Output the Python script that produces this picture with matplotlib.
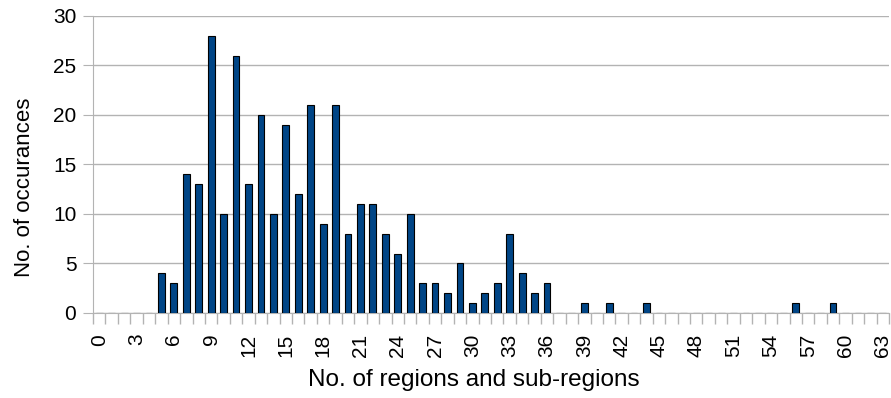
import numpy as np
import matplotlib
matplotlib.use('Agg')
from matplotlib import pyplot as plt

plt.rcParams['font.family'] = ['Liberation Sans', 'DejaVu Sans']

# category -> no. of occurances (categories 0..63)
regions = list(range(64))
counts_known = {5: 4, 6: 3, 7: 14, 8: 13, 9: 28, 10: 10, 11: 26, 12: 13, 13: 20,
                14: 10, 15: 19, 16: 12, 17: 21, 18: 9, 19: 21, 20: 8, 21: 11,
                22: 11, 23: 8, 24: 6, 25: 10, 26: 3, 27: 3, 28: 2, 29: 5, 30: 1,
                31: 2, 32: 3, 33: 8, 34: 4, 35: 2, 36: 3, 39: 1, 41: 1, 44: 1,
                56: 1, 59: 1}
counts = [counts_known.get(r, 0) for r in regions]
tick_labels = [str(r) for r in range(0, 64, 3)]

fig = plt.figure(figsize=(8.91, 3.98), dpi=100)
ax = fig.add_axes([0.1044, 0.2136, 0.8934, 0.7462])

ax.bar(regions, counts, width=0.55, color='#004586', edgecolor='black', linewidth=0.8, zorder=3)

ax.set_xlim(-0.5, 63.5)
ax.set_ylim(0, 30)
ax.set_yticks(range(0, 31, 5))
ax.yaxis.grid(True, color='#b3b3b3', linewidth=1, zorder=0)

ax.set_xticks(range(0, 64, 3))
ax.set_xticklabels(tick_labels, rotation=90)
ax.set_xticks(np.arange(-0.5, 64, 1), minor=True)
ax.tick_params(axis='x', which='major', length=0, pad=15, labelsize=15)
ax.tick_params(axis='x', which='minor', length=8, color='#b3b3b3', width=1)
ax.tick_params(axis='y', length=7, pad=5, color='#b3b3b3', labelsize=15)

for s in ['top', 'right']:
  ax.spines[s].set_visible(False)
for s in ['left', 'bottom']:
  ax.spines[s].set_color('#b3b3b3')

ax.set_xlabel('No. of regions and sub-regions', fontsize=17.5)
ax.set_ylabel('No. of occurances', fontsize=16)
ax.xaxis.set_label_coords(0.4786, -0.1886)
ax.yaxis.set_label_coords(-0.0729, 0.424)

fig.savefig('out.png', dpi=100)
